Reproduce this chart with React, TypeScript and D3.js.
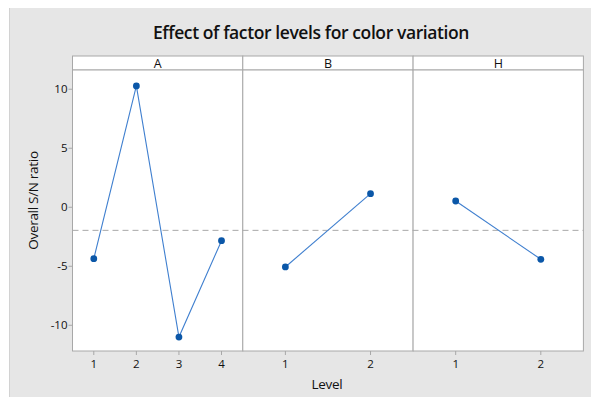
import React from "react";
import * as d3 from "d3";

const factors = ["A", "B", "H"];
const levelsA = [1, 2, 3, 4];
const valuesA = [-4.36, 10.28, -11.0, -2.83];
const levelsB = [1, 2];
const valuesB = [-5.06, 1.15];
const levelsH = [1, 2];
const valuesH = [0.53, -4.41];
const yTicks = [-10, -5, 0, 5, 10];

const W = 599;
const H = 405;
const left = 72.5;
const panelW = 170.3;
const stripTop = 56;
const plotTop = 70;
const plotBottom = 351;

export default function App() {
  const series = [
    { name: factors[0], levels: levelsA, values: valuesA },
    { name: factors[1], levels: levelsB, values: valuesB },
    { name: factors[2], levels: levelsH, values: valuesH },
  ];
  const meanAll = (d3.mean(valuesA)! + d3.mean(valuesB)! + d3.mean(valuesH)!) / 3;
  const y = d3.scaleLinear().domain([-12.18, 11.63]).range([plotBottom, plotTop]);
  const font = "'Open Sans', 'Noto Sans', sans-serif";
  const lineColor = "#3f7fcf";
  const dotColor = "#0b57a8";
  const borderColor = "#a8a8a8";
  const right = left + panelW * 3;

  const xScale = (i: number, n: number) => {
    const x0 = left + panelW * i;
    return d3.scaleLinear().domain([0.5, n + 0.5]).range([x0, x0 + panelW]);
  };

  return (
    <div style={{ margin: "-8px" }}>
      <svg width={W} height={H} style={{ display: "block" }}>
        <rect x={0} y={0} width={W} height={H} fill="#ffffff" />
        <rect x={9.5} y={7.5} width={W - 10} height={H - 7} fill="#e6e6e6" stroke="#d2d2d2" />
        <text x={311} y={39} textAnchor="middle" fontFamily={font} fontSize={17.5} fontWeight={600} fill="#111" letterSpacing={-0.4}>
          Effect of factor levels for color variation
        </text>
        {series.map((s, i) => {
          const x0 = left + panelW * i;
          const x = xScale(i, s.levels.length);
          return (
            <g key={s.name}>
              <rect x={x0} y={stripTop} width={panelW} height={plotTop - stripTop} fill="#fff" stroke={borderColor} />
              <text x={x0 + panelW / 2} y={plotTop - 2.5} textAnchor="middle" fontFamily={font} fontSize={12.5} fill="#111">
                {s.name}
              </text>
              <rect x={x0} y={plotTop} width={panelW} height={plotBottom - plotTop} fill="#fff" stroke={borderColor} />
              {s.levels.map((l) => (
                <g key={l}>
                  <line x1={x(l)} x2={x(l)} y1={plotBottom} y2={plotBottom + 4} stroke={borderColor} />
                  <text x={x(l)} y={368} textAnchor="middle" fontFamily={font} fontSize={11.5} fill="#111">
                    {l}
                  </text>
                </g>
              ))}
            </g>
          );
        })}
        <line x1={left} x2={right} y1={y(meanAll)} y2={y(meanAll)} stroke="#a8a8a8" strokeDasharray="6,4" />
        {series.map((s, i) => {
          const x = xScale(i, s.levels.length);
          const line = d3
            .line<number>()
            .x((_, j) => x(s.levels[j]))
            .y((v) => y(v));
          return (
            <g key={"d" + s.name}>
              <path d={line(s.values) || ""} fill="none" stroke={lineColor} strokeWidth={1.1} />
              {s.values.map((v, j) => (
                <circle key={j} cx={x(s.levels[j])} cy={y(v)} r={3.4} fill={dotColor} />
              ))}
            </g>
          );
        })}
        {yTicks.map((t) => (
          <g key={t}>
            <line x1={left - 4} x2={left} y1={y(t)} y2={y(t)} stroke={borderColor} />
            <text x={left - 5} y={y(t) + 4} textAnchor="end" fontFamily={font} fontSize={11.5} fill="#111">
              {t}
            </text>
          </g>
        ))}
        <text
          transform={`translate(38,${(plotTop + plotBottom) / 2 - 10}) rotate(-90)`}
          textAnchor="middle"
          fontFamily={font}
          fontSize={13.5}
          fill="#111"
          letterSpacing={-0.3}
        >
          Overall S/N ratio
        </text>
        <text x={327} y={389} textAnchor="middle" fontFamily={font} fontSize={13.5} fill="#111" letterSpacing={-0.3}>
          Level
        </text>
      </svg>
    </div>
  );
}
